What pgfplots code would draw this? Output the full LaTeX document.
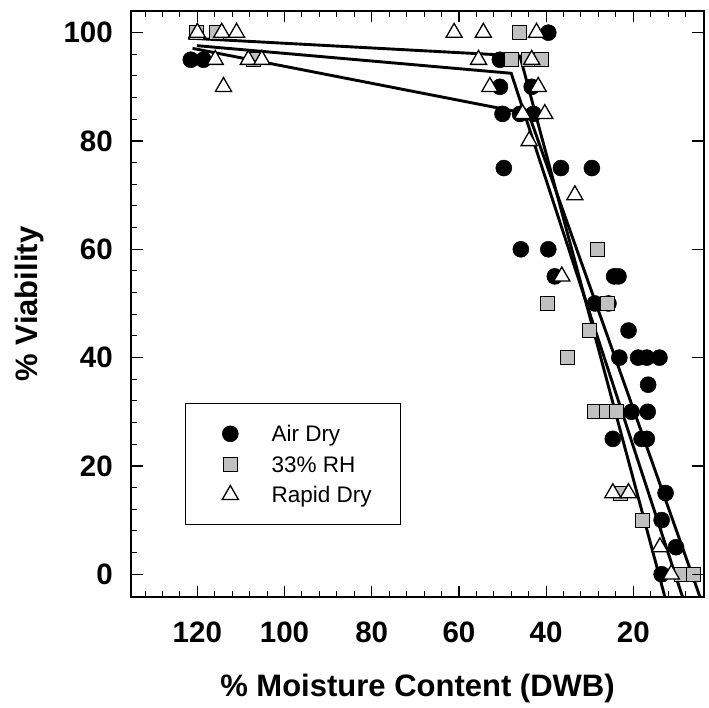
\documentclass[border=0pt]{standalone}
\usepackage{fontspec}
\setmainfont{Liberation Sans}
\usepackage{pgfplots}
\pgfplotsset{compat=1.18}
\definecolor{sqgray}{RGB}{192,192,192}
\begin{document}
\begin{tikzpicture}
\begin{axis}[
  name=ax,
  scale only axis,
  width=572pt, height=586pt,
  x dir=reverse,
  xmin=3.9, xmax=135.1, ymin=-4.2, ymax=104,
  xtick={20,40,...,120}, ytick={0,20,...,100},
  minor xtick={8,12,...,132}, minor ytick={4,8,...,96},
  xtick pos=both, ytick pos=left,
  xticklabel pos=lower,
  tick align=inside,
  major tick length=11.5pt, minor tick length=6pt,
  tick style={black, line width=1.2pt},
  minor tick style={line width=1pt},
  axis line style={line width=2pt},
  /pgf/number format/assume math mode=true,
  xticklabel style={font=\fontsize{29.5}{30}\selectfont\bfseries, anchor=base, yshift=-45.8pt, inner sep=0pt},
  yticklabel style={font=\fontsize{29.5}{30}\selectfont\bfseries, anchor=east, xshift=-18.5pt, inner sep=0pt},
  xlabel={\% Moisture Content (DWB)},
  xlabel style={font=\fontsize{31}{31}\selectfont\bfseries, at={(axis description cs:0.5,-0.1706)}, anchor=base, inner sep=0pt},
  ylabel={\% Viability},
  ylabel style={font=\fontsize{31}{31}\selectfont\bfseries, at={(axis description cs:-0.1776,0.5)}, anchor=center, rotate=0, inner sep=0pt},
  legend image code/.code={\path (-15pt,0pt) (15pt,0pt); \draw[#1] plot coordinates {(0pt,0pt)};},
  legend style={at={(axis description cs:0.0936,0.3305)}, anchor=north west, draw=black, line width=1pt,
    inner xsep=29.3pt, inner ysep=18pt, row sep=6.5pt, column sep=25.7pt,
    cells={anchor=west},
    nodes={inner sep=0pt, text height=20pt, text depth=4pt, font=\fontsize{22.5}{24}\selectfont}},
]
% fitted broken-line curves
\addplot[black, line width=2.9pt, forget plot] coordinates {(122.1,99.0) (46.0,95.7) (12.75,-4.2)};
\addplot[black, line width=2.9pt, forget plot] coordinates {(120.1,97.6) (48.0,92.5) (8.7,-4.2)};
\addplot[black, line width=2.9pt, forget plot] coordinates {(121.1,97.1) (44.0,85.0) (4.7,-4.2)};
% Air Dry
\addplot[only marks, mark=*, mark size=8pt, mark options={fill=black, draw=black, line width=0.5pt}] coordinates {
(121.5,95) (118.6,95) (39.5,100) (50.6,95)
(50.6,90) (43.3,90)
(50.0,85) (46.0,85) (42.9,85)
(49.7,75) (36.6,75) (29.5,75)
(45.8,60) (39.5,60)
(38.0,55) (24.4,55) (23.4,55)
(28.8,50) (25.7,50)
(21.1,45)
(23.2,40) (18.9,40) (16.9,40) (14.0,40)
(16.6,35)
(20.4,30) (16.7,30)
(24.7,25) (18.1,25) (16.9,25)
(12.6,15) (13.5,10) (10.2,5) (13.5,0)
};
\addlegendentry{Air Dry}
% 33% RH
\addplot[only marks, mark=square*, mark size=7pt, mark options={fill=sqgray, draw=black, line width=1pt}] coordinates {
(120.1,100) (115.5,100) (46.1,100)
(107.2,95) (48.0,95) (44.1,95) (41.0,95)
(28.2,60)
(39.6,50) (25.9,50)
(30.1,45)
(35.2,40)
(28.8,30) (26.1,30) (23.8,30)
(22.9,15)
(17.8,10)
(8.9,0) (6.2,0)
};
\addlegendentry{33\% RH}
% Rapid Dry
\addplot[only marks, mark=triangle*, mark size=9.3pt, mark options={fill=white, draw=black, line width=1.3pt}] coordinates {
(120.0,100) (114.4,100) (111.0,100)
(61.1,100) (54.4,100) (42.2,100)
(115.9,95) (108.3,95) (105.2,95)
(55.5,95) (43.3,95)
(114.0,90) (52.9,90) (41.8,90)
(45.4,85) (40.3,85)
(43.9,80)
(33.4,70)
(36.4,55)
(24.7,15) (21.1,15)
(13.9,5)
(11.3,0)
};
\addlegendentry{Rapid Dry}
\end{axis}
\begin{axis}[
  at={(ax.south west)}, anchor=south west,
  scale only axis,
  width=572pt, height=586pt,
  x dir=reverse,
  xmin=3.9, xmax=135.1, ymin=-4.2, ymax=104,
  axis x line=none, axis y line*=right,
  ytick={0,20,...,100}, yticklabels={}, minor ytick={},
  tick align=inside,
  major tick length=11.5pt,
  tick style={black, line width=1.2pt},
  axis line style={-, line width=2pt},
]
\end{axis}
\pgfresetboundingbox
\path (ax.south west) ++(-131.5pt,-110pt) rectangle ++(709pt,707pt);
\end{tikzpicture}
\end{document}
